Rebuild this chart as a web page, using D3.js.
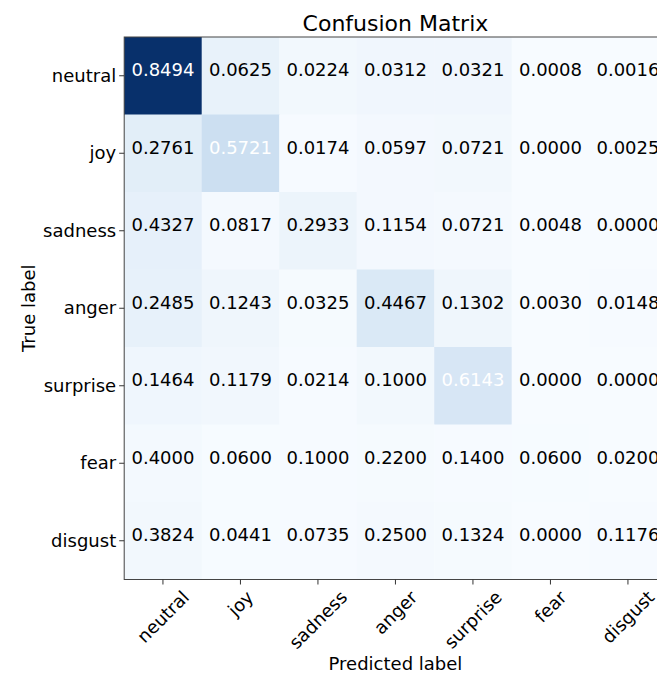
<!DOCTYPE html>
<html>
<head>
<meta charset="utf-8">
<script src="https://d3js.org/d3.v7.min.js"></script>
<style>
  body { margin: 0; background: #fff; }
  text { font-family: "DejaVu Sans", sans-serif; }
</style>
</head>
<body>
<script>
// class names (rows = true, columns = predicted)
const labels = ["neutral", "joy", "sadness", "anger", "surprise", "fear", "disgust"];

// row-normalised rates, as printed in the cells
const rates = [
  [0.8494, 0.0625, 0.0224, 0.0312, 0.0321, 0.0008, 0.0016],
  [0.2761, 0.5721, 0.0174, 0.0597, 0.0721, 0.0000, 0.0025],
  [0.4327, 0.0817, 0.2933, 0.1154, 0.0721, 0.0048, 0.0000],
  [0.2485, 0.1243, 0.0325, 0.4467, 0.1302, 0.0030, 0.0148],
  [0.1464, 0.1179, 0.0214, 0.1000, 0.6143, 0.0000, 0.0000],
  [0.4000, 0.0600, 0.1000, 0.2200, 0.1400, 0.0600, 0.0200],
  [0.3824, 0.0441, 0.0735, 0.2500, 0.1324, 0.0000, 0.1176]
];

// samples per true class (the shading follows raw counts)
const support = [1256, 402, 208, 345, 281, 50, 68];

const width = 657, height = 673;
const plotLeft = 124.2, plotTop = 37, side = 542.5;

const svg = d3.select("body").append("svg")
  .attr("width", width)
  .attr("height", height);

const x = d3.scaleBand().domain(labels).range([plotLeft, plotLeft + side]);
const y = d3.scaleBand().domain(labels).range([plotTop, plotTop + side]);

// flatten to cells
const cells = [];
rates.forEach((row, i) => {
  row.forEach((v, j) => {
    cells.push({ r: labels[i], c: labels[j], v: v, n: Math.round(v * support[i]) });
  });
});
const maxN = d3.max(cells, d => d.n);
const color = d3.scaleSequential(d3.interpolateBlues).domain([0, maxN]);

svg.append("g").selectAll("rect")
  .data(cells)
  .enter()
  .append("rect")
  .attr("x", d => x(d.c))
  .attr("y", d => y(d.r))
  .attr("width", x.bandwidth() + 0.5)
  .attr("height", y.bandwidth() + 0.5)
  .attr("fill", d => color(d.n));

// values sit a little above the cell centre, as in the original
svg.append("g").selectAll("text")
  .data(cells)
  .enter()
  .append("text")
  .attr("x", d => x(d.c) + x.bandwidth() / 2)
  .attr("y", d => y(d.r) + y.bandwidth() / 2 - 6)
  .attr("text-anchor", "middle")
  .attr("dy", "0.35em")
  .attr("font-size", 18)
  .attr("fill", d => d.v > 0.5 ? "#fff" : "#000")
  .text(d => d.v.toFixed(4));

// frame
svg.append("rect")
  .attr("x", plotLeft)
  .attr("y", plotTop)
  .attr("width", side)
  .attr("height", side)
  .attr("fill", "none")
  .attr("stroke", "#444")
  .attr("stroke-width", 1);

// y axis
const yAxis = svg.append("g")
  .attr("transform", `translate(${plotLeft},0)`)
  .call(d3.axisLeft(y).tickSize(5).tickPadding(3));
yAxis.select(".domain").remove();
yAxis.selectAll("line").attr("stroke", "#333");
yAxis.selectAll("text")
  .attr("font-size", 18)
  .attr("fill", "#000")
  .attr("font-family", "DejaVu Sans");

// x axis with 45 degree labels centred on the tick
const xAxis = svg.append("g")
  .attr("transform", `translate(0,${plotTop + side})`)
  .call(d3.axisBottom(x).tickSize(5).tickPadding(3));
xAxis.select(".domain").remove();
xAxis.selectAll("line").attr("stroke", "#333");
xAxis.selectAll("text")
  .attr("font-size", 18)
  .attr("fill", "#000")
  .attr("font-family", "DejaVu Sans")
  .attr("dy", null)
  .attr("y", null)
  .attr("dominant-baseline", "central")
  .attr("text-anchor", "middle")
  .each(function () {
    const w = this.getComputedTextLength();
    const h = 15;
    const off = 9 + (w + h) / (2 * Math.SQRT2);
    d3.select(this).attr("transform", `translate(0,${off}) rotate(-45)`);
  });

// titles
svg.append("text")
  .attr("x", plotLeft + side / 2)
  .attr("y", 31)
  .attr("text-anchor", "middle")
  .attr("font-size", 22)
  .text("Confusion Matrix");

svg.append("text")
  .attr("x", plotLeft + side / 2)
  .attr("y", 670)
  .attr("text-anchor", "middle")
  .attr("font-size", 18)
  .text("Predicted label");

svg.append("text")
  .attr("transform", `translate(35,${plotTop + side / 2}) rotate(-90)`)
  .attr("text-anchor", "middle")
  .attr("font-size", 18)
  .text("True label");
</script>
</body>
</html>
